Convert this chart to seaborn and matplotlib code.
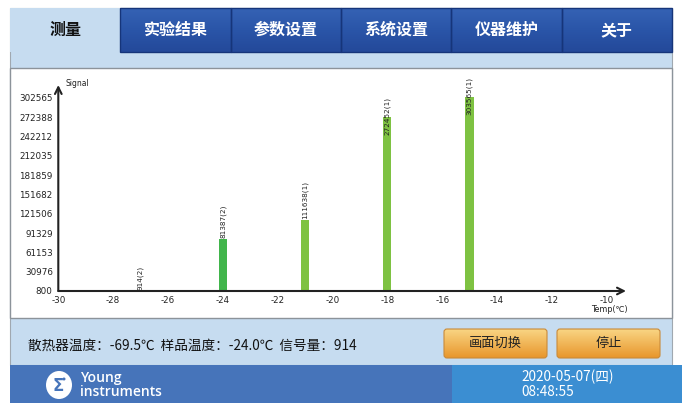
import numpy as np
import pandas as pd
import matplotlib
matplotlib.use("Agg")
import matplotlib.pyplot as plt
from matplotlib.patches import Rectangle, FancyBboxPatch, Ellipse
import seaborn as sns

# ---------------- data ----------------
temps = [-27, -24, -21, -18, -15]
signals = [914, 81387, 111638, 272452, 303565]
counts = [2, 2, 1, 1, 1]
bar_labels = ["914(2)", "81387(2)", "111638(1)", "272452(1)", "303565(1)"]
y_ticks = [800, 30976, 61153, 91329, 121506, 151682, 181859, 212035, 242212, 272388, 302565]
x_ticks = [-30, -28, -26, -24, -22, -20, -18, -16, -14, -12, -10]
tabs = ["测量", "实验结果", "参数设置", "系统设置", "仪器维护", "关于"]
status_text = "散热器温度：-69.5℃  样品温度：-24.0℃  信号量：914"
buttons = ["画面切换", "停止"]
brand = ["Young", "instruments"]
date_text = ["2020-05-07(四)", "08:48:55"]

sns.set_theme(style="white")
plt.rcParams["font.family"] = ["DejaVu Sans", "Noto Sans CJK SC"]
CJK = ["Noto Sans CJK SC", "DejaVu Sans"]

W, H = 682, 403
fig = plt.figure(figsize=(W / 100, H / 100), dpi=100)
fig.patch.set_facecolor("white")

# ---------------- UI canvas ----------------
bg = fig.add_axes([0, 0, 1, 1])
bg.set_xlim(0, W)
bg.set_ylim(H, 0)
bg.axis("off")

light = "#c6dcf0"
bg.add_patch(Rectangle((10, 8), 662, 357, facecolor=light, edgecolor="#a0a8b0", lw=0.8, zorder=0))

tab_grad = np.linspace(0, 1, 64).reshape(-1, 1)
tab_cmap = matplotlib.colors.LinearSegmentedColormap.from_list("tab", ["#3562b4", "#2a55a8", "#24499a"])
tab_w = 662 / 6
for i, t in enumerate(tabs):
    x0 = 10 + i * tab_w
    if i == 0:
        bg.add_patch(Rectangle((x0, 8), tab_w, 44, facecolor=light, edgecolor="none", zorder=1))
        bg.text(x0 + tab_w / 2, 30, t, color="#111111", fontsize=11.5, fontweight="bold",
                ha="center", va="center", family=CJK, zorder=3)
    else:
        bg.imshow(tab_grad, extent=[x0, x0 + tab_w, 52, 8], cmap=tab_cmap, aspect="auto", zorder=1)
        bg.add_patch(Rectangle((x0, 8), tab_w, 44, facecolor="none", edgecolor="#16357a", lw=1.0, zorder=2))
        bg.text(x0 + tab_w / 2, 30, t, color="white", fontsize=11.5, fontweight="bold",
                ha="center", va="center", family=CJK, zorder=3)

# chart panel
bg.add_patch(Rectangle((10, 68), 662, 250, facecolor="white", edgecolor="#8c939a", lw=1.0, zorder=1))

# status text
bg.text(28, 346, status_text, color="#111111", fontsize=9.8, ha="left", va="center", family=CJK, zorder=3)

# buttons with gradient
grad = np.linspace(0, 1, 64).reshape(-1, 1)
cmap = matplotlib.colors.LinearSegmentedColormap.from_list("btn", ["#f9d583", "#e8962c"])
for (bx0, bx1), label in zip([(444, 547), (557, 660)], buttons):
    patch = FancyBboxPatch((bx0, 329), bx1 - bx0, 29, boxstyle="round,pad=0,rounding_size=3",
                           facecolor="none", edgecolor="#c98a3a", lw=0.8, zorder=3)
    bg.add_patch(patch)
    im = bg.imshow(grad, extent=[bx0, bx1, 358, 329], cmap=cmap, aspect="auto", zorder=2)
    im.set_clip_path(patch)
    bg.text((bx0 + bx1) / 2, 343, label, color="#222222", fontsize=9.5, ha="center", va="center",
            family=CJK, zorder=4)

# footer
bg.add_patch(Rectangle((10, 365), 672, 38, facecolor="#4674ba", edgecolor="none", zorder=1))
bg.add_patch(Rectangle((452, 365), 230, 38, facecolor="#3b8ed2", edgecolor="none", zorder=1))
bg.add_patch(Ellipse((59, 385), 26, 28, facecolor="white", edgecolor="none", zorder=2))
bg.text(58, 386, "Σ", color="#4674ba", fontsize=12, fontweight="bold", ha="center", va="center", zorder=3)
bg.add_patch(Ellipse((64, 379), 3, 3, facecolor="#4674ba", edgecolor="none", zorder=4))
bg.text(80, 378, brand[0], color="white", fontsize=10, fontweight="semibold", ha="left", va="center",
        family="Open Sans", zorder=3)
bg.text(80, 392, brand[1], color="white", fontsize=10, fontweight="semibold", ha="left", va="center",
        family="Open Sans", zorder=3)
bg.text(521, 377, date_text[0], color="white", fontsize=9.8, ha="left", va="center", family=CJK, zorder=3)
bg.text(521, 392, date_text[1], color="white", fontsize=9.8, ha="left", va="center", family=CJK, zorder=3)

bg.set_xlim(0, W)
bg.set_ylim(H, 0)

# ---------------- chart ----------------
ax_l, ax_r, ax_b, ax_t = 58.3, 626, 291, 85
ax = fig.add_axes([ax_l / W, (H - ax_b) / H, (ax_r - ax_l) / W, (ax_b - ax_t) / H])
ax.patch.set_alpha(0)

df = pd.DataFrame({"temp": temps, "signal": signals, "count": counts, "label": bar_labels})
sns.barplot(data=df, x="temp", y="signal", hue="count", native_scale=True, dodge=False,
            palette={2: "#41b54b", 1: "#7ec242"}, width=0.1, legend=False, ax=ax,
            linewidth=0, saturation=1)

px_per_unit = (606.7 - ax_l) / 20
ax.set_xlim(-30, -30 + (ax_r - ax_l) / px_per_unit)
y_per_px = (302565 - 800) / (291 - 98)
ax.set_ylim(800, 800 + (ax_b - ax_t) * y_per_px)

ax.set_xticks(x_ticks)
ax.set_xticklabels([str(v) for v in x_ticks])
ax.set_yticks(y_ticks)
ax.set_yticklabels([str(v) for v in y_ticks])
ax.tick_params(axis="x", direction="inout", length=4, width=1, colors="#222222", labelsize=6.3, pad=1.5)
ax.tick_params(axis="y", direction="out", length=3, width=1, colors="#222222", labelsize=6.3, pad=1)
ax.set_xlabel("")
ax.set_ylabel("")
for s in ax.spines.values():
    s.set_visible(False)

ax.annotate("", xy=(1.0, 0), xytext=(0, 0), xycoords="axes fraction",
            arrowprops=dict(arrowstyle="->", lw=1.5, color="#222222", shrinkA=0, shrinkB=0))
ax.annotate("", xy=(0, 1.0), xytext=(0, 0), xycoords="axes fraction",
            arrowprops=dict(arrowstyle="->", lw=1.5, color="#222222", shrinkA=0, shrinkB=0))

offsets = [1, 1, 1, -18, -18]
for t, s, lab, off in zip(temps, signals, bar_labels, offsets):
    ax.annotate(lab, xy=(t, s), xytext=(0, off), textcoords="offset pixels", rotation=90,
                ha="center", va="bottom", fontsize=5.2, color="#222222", annotation_clip=False)

ax.text(65 / W, (H - 84) / H, "Signal", transform=fig.transFigure, fontsize=5.5,
        ha="left", va="center", color="#222222")
ax.text(609 / W, (H - 310) / H, "Temp(℃)", transform=fig.transFigure, fontsize=5.8,
        ha="center", va="center", color="#222222", family=["DejaVu Sans", "Noto Sans CJK SC"])

fig.savefig("out.png", dpi=100)
